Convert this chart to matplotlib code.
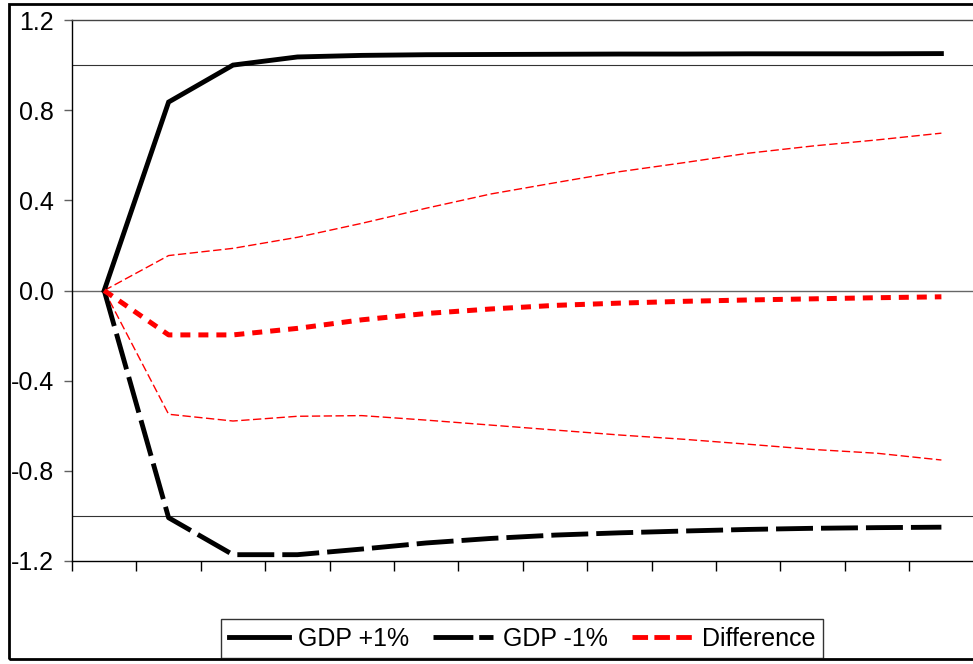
from matplotlib import pyplot as plt
from matplotlib.lines import Line2D
from matplotlib.patches import Rectangle
import numpy as np

plt.rcParams['font.family'] = ['Liberation Sans', 'DejaVu Sans']

# Impulse responses (14 periods)
periods = np.arange(1, 15)
gdp_up = [0.0, 0.836, 1.0, 1.036, 1.043, 1.046, 1.047, 1.048, 1.049, 1.049, 1.050, 1.050, 1.050, 1.051]
gdp_down = [0.0, -1.008, -1.172, -1.172, -1.147, -1.12, -1.10, -1.085, -1.075, -1.067, -1.06, -1.055, -1.052, -1.05]
difference = [0.0, -0.197, -0.197, -0.168, -0.13, -0.102, -0.082, -0.066, -0.056, -0.048, -0.042, -0.037, -0.032, -0.028]
upper_band = [0.0, 0.155, 0.187, 0.236, 0.298, 0.365, 0.428, 0.478, 0.527, 0.567, 0.609, 0.641, 0.668, 0.698]
lower_band = [0.0, -0.549, -0.579, -0.558, -0.555, -0.575, -0.597, -0.619, -0.641, -0.66, -0.682, -0.705, -0.722, -0.752]

y_ticks = [-1.2, -0.8, -0.4, 0.0, 0.4, 0.8, 1.2]
legend_labels = ["GDP +1%", "GDP -1%", "Difference"]


def main():
    W, H = 973, 664
    fig = plt.figure(figsize=(W / 100, H / 100), dpi=100)

    # axes placed in pixel terms, right edge runs off the picture like the original
    left, right, top, bottom = 72, 973.6, 20, 561
    ax = fig.add_axes([left / W, 1 - bottom / H, (right - left) / W, (bottom - top) / H])

    ax.axhline(1.0, color='#333333', lw=0.8, zorder=1)
    ax.axhline(-1.0, color='#333333', lw=0.8, zorder=1)
    ax.axhline(0.0, color='#666666', lw=1.0, zorder=1)

    # thin confidence bands
    ax.plot(periods, upper_band, color='red', lw=1.0, dashes=(6, 2.5), zorder=2)
    ax.plot(periods, lower_band, color='red', lw=1.0, dashes=(6, 2.5), zorder=2)

    ax.plot(periods, gdp_up, color='black', lw=3.5, solid_joinstyle='miter', zorder=3)
    ax.plot(periods, gdp_down, color='black', lw=3.5, dashes=(7.6, 1.65), zorder=3)
    ax.plot(periods, difference, color='red', lw=3.6, dashes=(2.0, 1.6), zorder=3)

    ax.set_xlim(0.5, 14.5)
    ax.set_ylim(-1.2, 1.2)
    ax.set_xticks(np.arange(0.5, 14.0, 1.0))
    ax.set_xticklabels([])
    ax.set_yticks(y_ticks)
    ax.set_yticklabels(["%.1f" % v for v in y_ticks], fontsize=18)

    ax.tick_params(axis='x', direction='out', length=7, width=1, color='black')
    ax.tick_params(axis='y', direction='out', length=6, width=1, color='#606060', pad=7)

    ax.spines['right'].set_visible(False)
    for s in ['left', 'bottom']:
        ax.spines[s].set_color('black')
        ax.spines[s].set_linewidth(1.0)
    ax.spines['top'].set_color('#444444')
    ax.spines['top'].set_linewidth(1.0)

    # legend proxies
    handles = [
        Line2D([], [], color='black', lw=3.5),
        Line2D([], [], color='black', lw=3.5, dashes=(8.2, 1.2)),
        Line2D([], [], color='red', lw=3.5, dashes=(3.2, 1.3)),
    ]
    leg = fig.legend(handles, legend_labels, loc='center', ncol=3,
                     bbox_to_anchor=(522 / W, 1 - 638.5 / H), fontsize=18,
                     frameon=True, fancybox=False, edgecolor='black',
                     handlelength=2.4, handletextpad=0.4, columnspacing=0.95,
                     borderpad=0.3)
    leg.get_frame().set_linewidth(1.0)

    # outer frame around the whole graph
    frame = Rectangle((9.0 / W, 5 / H), 1.05, (H - 3.5 - 5) / H, transform=fig.transFigure,
                      fill=False, edgecolor='black', lw=2.0, clip_on=False)
    fig.add_artist(frame)

    fig.savefig('out.png', dpi=100)


if __name__ == "__main__":
    main()
